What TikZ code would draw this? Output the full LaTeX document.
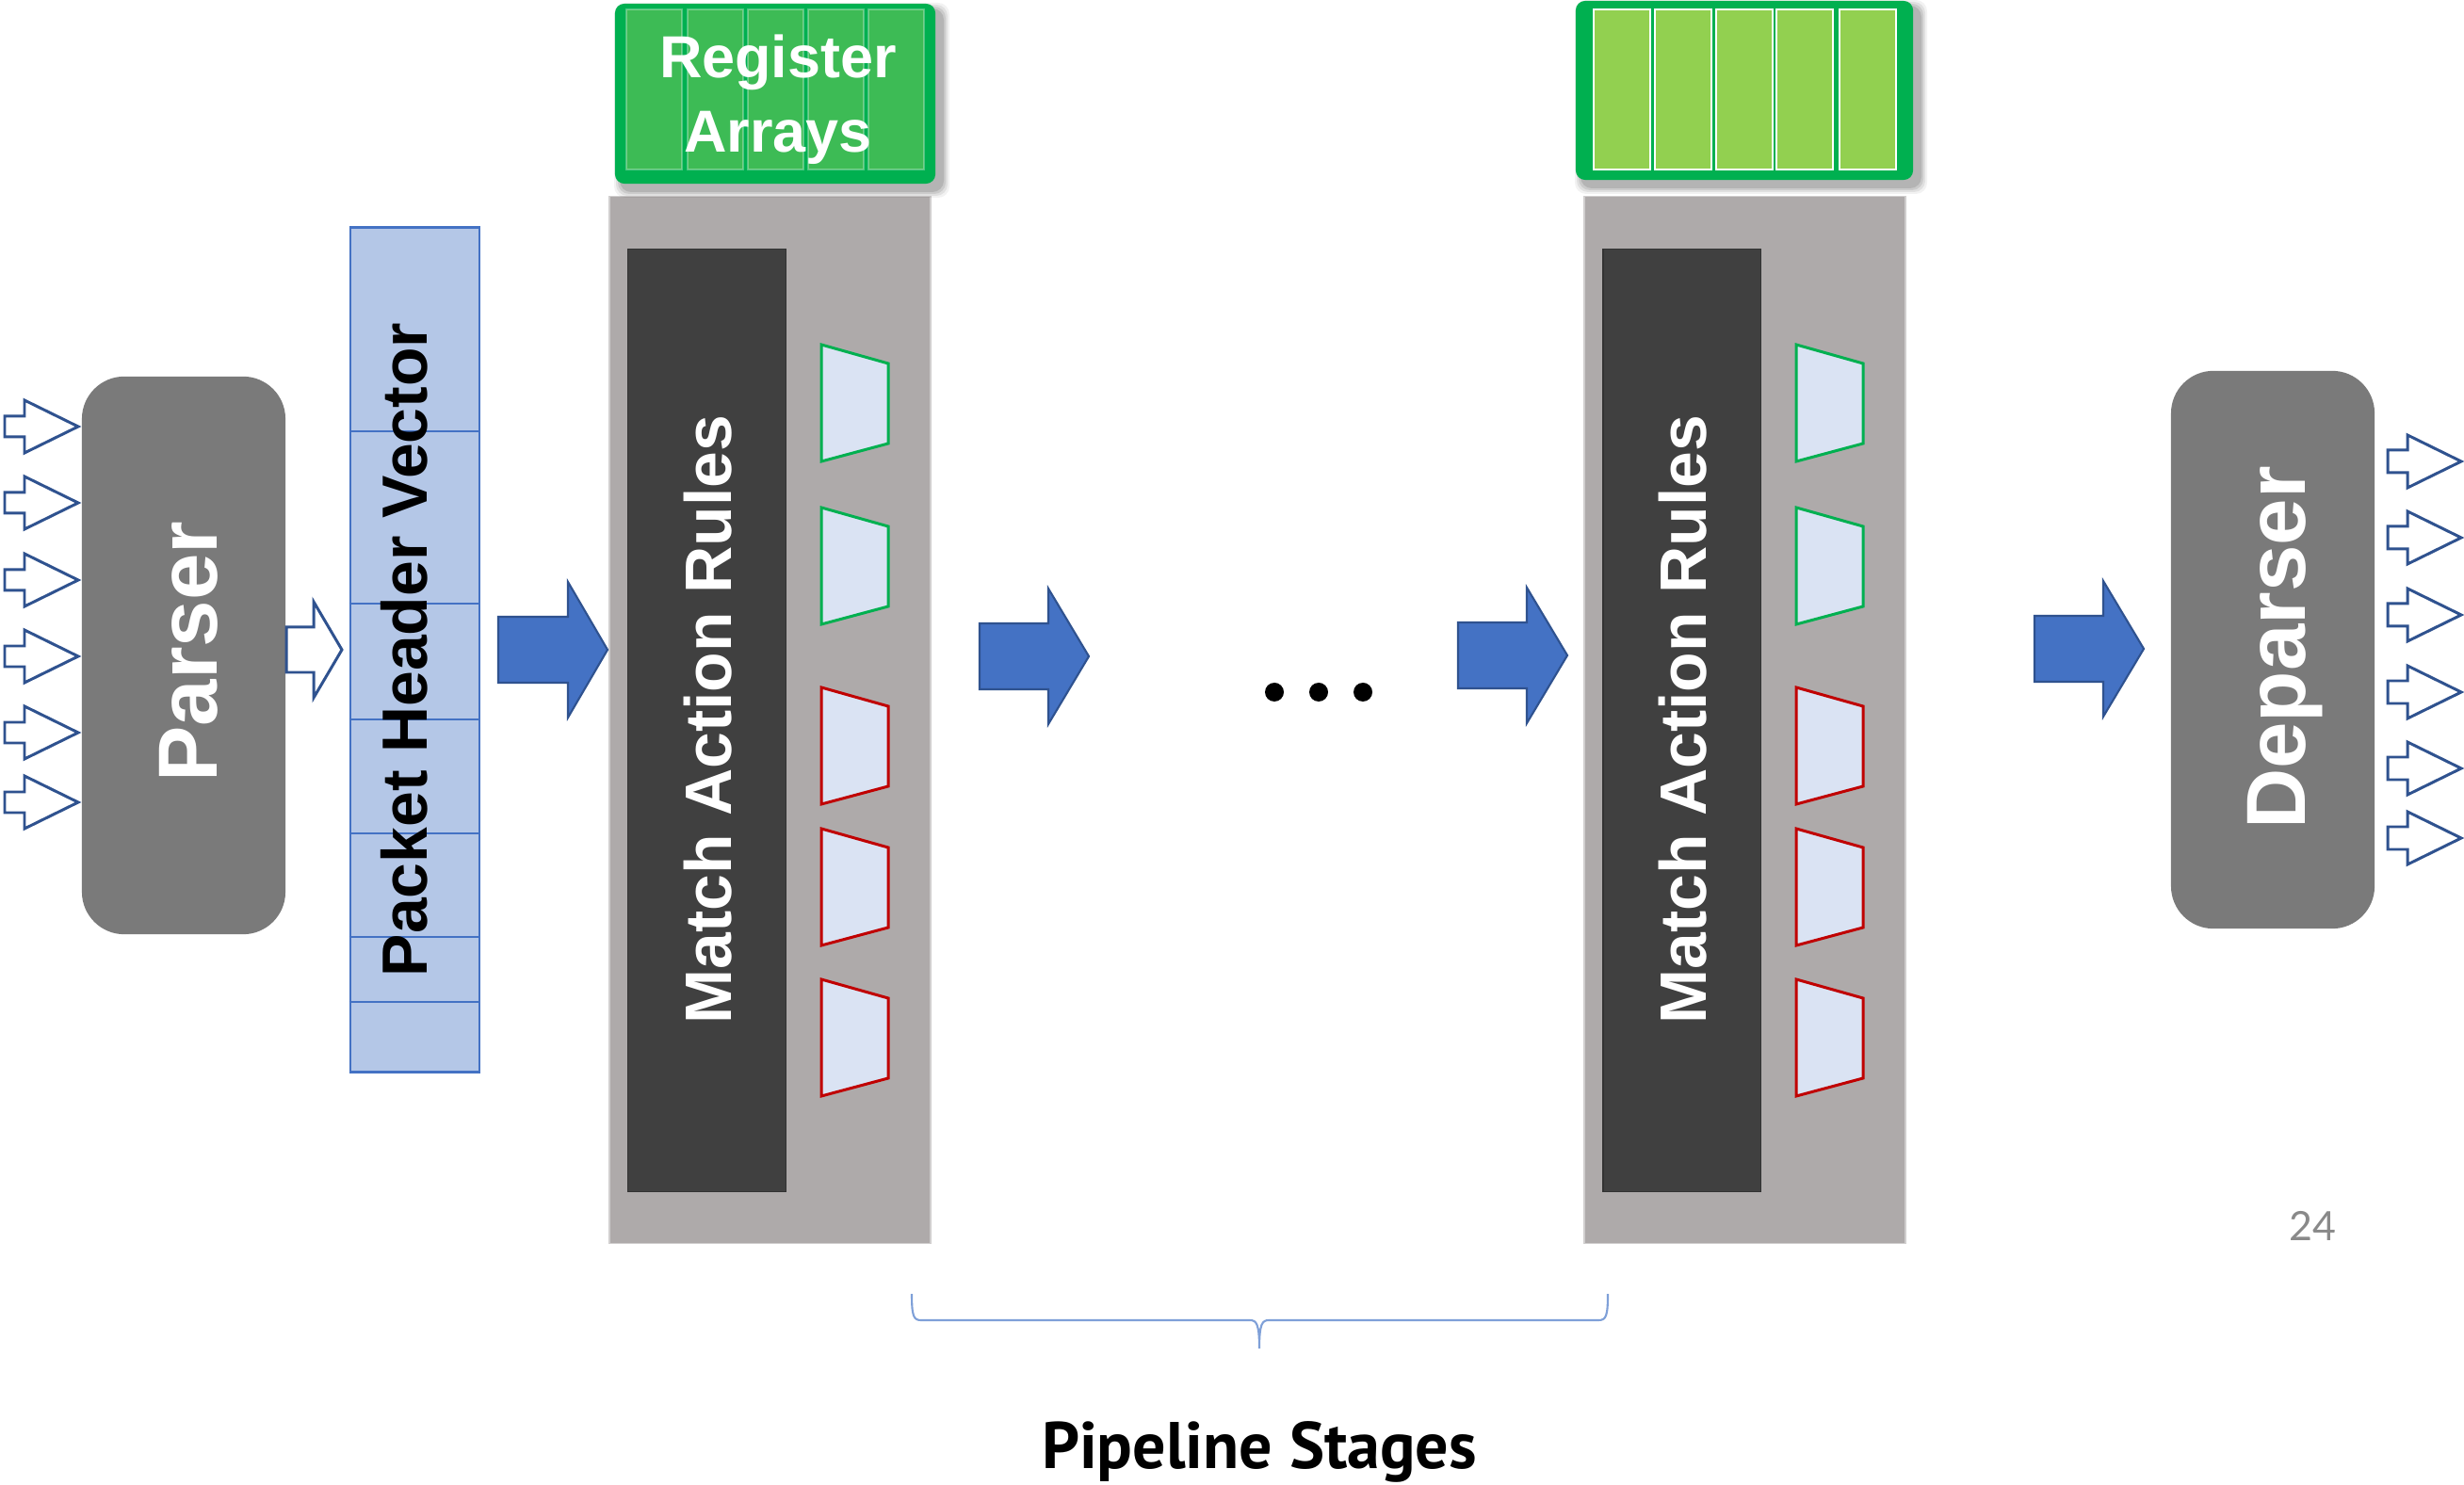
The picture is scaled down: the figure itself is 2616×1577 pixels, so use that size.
\documentclass[tikz,border=0pt]{standalone}
\usepackage{fontspec}
\setmainfont{Liberation Sans}
\newfontfamily\ptsans{PT Sans}
\newfontfamily\latofont{Lato}

\definecolor{blockblue}{HTML}{4472C4}
\definecolor{blockedge}{HTML}{2F528F}
\definecolor{phvfill}{HTML}{B4C7E7}
\definecolor{stagegray}{HTML}{AEAAAA}
\definecolor{stageedge}{HTML}{D0CECE}
\definecolor{rulesdark}{HTML}{404040}
\definecolor{parsergray}{HTML}{7A7A7A}
\definecolor{regdark}{HTML}{00B050}
\definecolor{reglight}{HTML}{3DBB55}
\definecolor{cellgreen}{HTML}{92D050}
\definecolor{tablefill}{HTML}{DAE3F3}
\definecolor{hitgreen}{HTML}{00B050}
\definecolor{missred}{HTML}{C00000}
\definecolor{bracecol}{HTML}{7FA0D8}
\definecolor{pagenum}{HTML}{898989}

% block arrow: style, left x, head x, tip x, centre y, shaft half height, head half height
\newcommand{\blockarr}[7]{%
  \draw[#1] (#2,#5-#6) -- (#3,#5-#6) -- (#3,#5-#7) -- (#4,#5)
    -- (#3,#5+#7) -- (#3,#5+#6) -- (#2,#5+#6) -- cycle;}

% match-action table (trapezoid): colour, top of the left side
\newcommand{\mattable}[2]{%
  \draw[tablebox,draw=#1] (872,#2) -- (943,#2+20) -- (943,#2+105) -- (872,#2+124) -- cycle;}

% soft drop shadow under a rectangle: x0,y0,x1,y1
\newcommand{\softshadow}[4]{%
  \foreach \s/\o in {9/0.05,7/0.07,5/0.09,3/0.11}{%
    \fill[black,opacity=\o,rounded corners=0.12cm] (#1+8-\s,#2+8-\s) rectangle (#3+6+\s,#4+6+\s);}}

\tikzset{
  procbox/.style={fill=parsergray,draw=none,rounded corners=0.45cm,inner sep=0},
  vlabel/.style={rotate=90,anchor=base,inner sep=0},
  hollowarrow/.style={draw=blockedge,fill=white,line width=0.85pt,line join=miter},
  solidarrow/.style={draw=blockedge,fill=blockblue,line width=0.6pt,line join=miter},
  tablebox/.style={fill=tablefill,line width=0.85pt,line join=miter},
  phvline/.style={draw=blockblue,line width=0.45pt},
  regcell/.style={fill=reglight,draw=white,draw opacity=0.3,line width=0.6pt},
  valcell/.style={fill=cellgreen,draw=white,line width=0.8pt},
}

\begin{document}
\begin{tikzpicture}[x=0.01cm,y=-0.01cm]
\fill[white] (0,0) rectangle (2616,1577);
\useasboundingbox (0,0) rectangle (2616,1577);

% ---------- parser and its inputs ----------
\node[procbox,minimum width=2.16cm,minimum height=5.92cm] (parser) at (195,696) {};
\node[vlabel,text=white,font=\bfseries\fontsize{25.3}{30}\selectfont] (parsertxt) at (230,692) {Parser};
\foreach \yc in {453,534,616,697,778,852}{
  \blockarr{hollowarrow}{5}{26}{83}{\yc}{11}{28}
}
\blockarr{hollowarrow}{304}{333}{363}{690}{24}{51}

% ---------- packet header vector ----------
\node[fill=phvfill,draw=blockblue,line width=0.8pt,minimum width=1.37cm,minimum height=8.96cm,inner sep=0] (phv) at (440.5,690) {};
\foreach \yl in {458,641,764,885,995,1064}{
  \draw[phvline] (phv.west |- 0,\yl) -- (phv.east |- 0,\yl);
}
\node[vlabel,text=black,font=\bfseries\fontsize{19.3}{23}\selectfont] (phvtxt) at (453,690) {Packet Header Vector};

% ---------- pipeline stages ----------
\foreach \dx/\nm in {0/one,1035/two}{
  \begin{scope}[shift={(\dx,0)}]
    \node[fill=stagegray,draw=stageedge,line width=0.4pt,minimum width=3.41cm,minimum height=11.11cm,inner sep=0] (stage\nm) at (817.5,764.5) {};
    \node[fill=rulesdark,draw=black!80,line width=0.3pt,minimum width=1.67cm,minimum height=10cm,inner sep=0] (rules\nm) at (750.5,765) {};
    \node[vlabel,text=white,font=\bfseries\fontsize{19.8}{24}\selectfont] (rulestxt\nm) at (776,764) {Match Action Rules};
    \mattable{hitgreen}{366}
    \mattable{hitgreen}{539}
    \mattable{missred}{730}
    \mattable{missred}{880}
    \mattable{missred}{1040}
  \end{scope}
}

% register arrays of the first stage
\softshadow{653}{4}{993}{195}
\node[fill=regdark,rounded corners=0.1cm,minimum width=3.4cm,minimum height=1.91cm,inner sep=0] (regone) at (823,99.5) {};
\foreach \cx in {665,730,794,858,922}{
  \draw[regcell] (\cx,10) rectangle (\cx+59,180);
}
% the base anchor of a two-line node sits on the last line
\node[text=white,font=\bfseries\fontsize{17.9}{22.5}\selectfont,align=center,anchor=base,inner sep=0] (regtxt) at (826,162) {Register\\Arrays};

% register values of the last stage
\softshadow{1673}{1}{2031}{191}
\node[fill=regdark,rounded corners=0.1cm,minimum width=3.58cm,minimum height=1.9cm,inner sep=0] (regtwo) at (1852,96) {};
\foreach \cx in {1692,1757,1822,1886,1953}{
  \draw[valcell] (\cx,10) rectangle (\cx+60,180);
}

% ---------- flow arrows between blocks ----------
\blockarr{solidarrow}{529}{603}{645}{690}{35}{72}
\blockarr{solidarrow}{1040}{1113}{1156}{697}{35}{72}
\blockarr{solidarrow}{1548}{1621}{1664}{696}{35}{72}
\blockarr{solidarrow}{2160}{2233}{2276}{689}{35}{72}

% ellipsis between stages
\foreach \dxp/\nm in {1353/a,1400/b,1447/c}{
  \fill[black] (\dxp,735) circle (10) coordinate (dot\nm);
}

% ---------- deparser and its outputs ----------
\node[procbox,minimum width=2.16cm,minimum height=5.92cm] (deparser) at (2413,690) {};
\node[vlabel,text=white,font=\bfseries\fontsize{25.3}{30}\selectfont] (deparsertxt) at (2447,688) {Deparser};
\foreach \yc in {490,571,653,735,816,890}{
  \blockarr{hollowarrow}{2535}{2556}{2613}{\yc}{12}{28}
}

% ---------- brace and caption ----------
\coordinate (braceL) at (968,1374);
\coordinate (braceR) at (1707,1374);
\coordinate (braceTip) at (1337,1432);
\draw[bracecol,line width=0.6pt] (braceL) .. controls (968,1398) and (970,1402) .. (978,1402)
  -- (1327,1402) .. controls (1334,1402) and (1337,1406) .. (braceTip)
  .. controls (1337,1406) and (1340,1402) .. (1347,1402)
  -- (1697,1402) .. controls (1705,1402) and (1707,1398) .. (braceR);
\node[anchor=base,inner sep=0,font=\ptsans\bfseries\fontsize{19.9}{24}\selectfont] (caption) at (1337,1559) {Pipeline Stages};

\node[anchor=base,inner sep=0,text=pagenum,font=\latofont\fontsize{12.2}{14}\selectfont] (pageno) at (2455,1317) {24};
\end{tikzpicture}
\end{document}
